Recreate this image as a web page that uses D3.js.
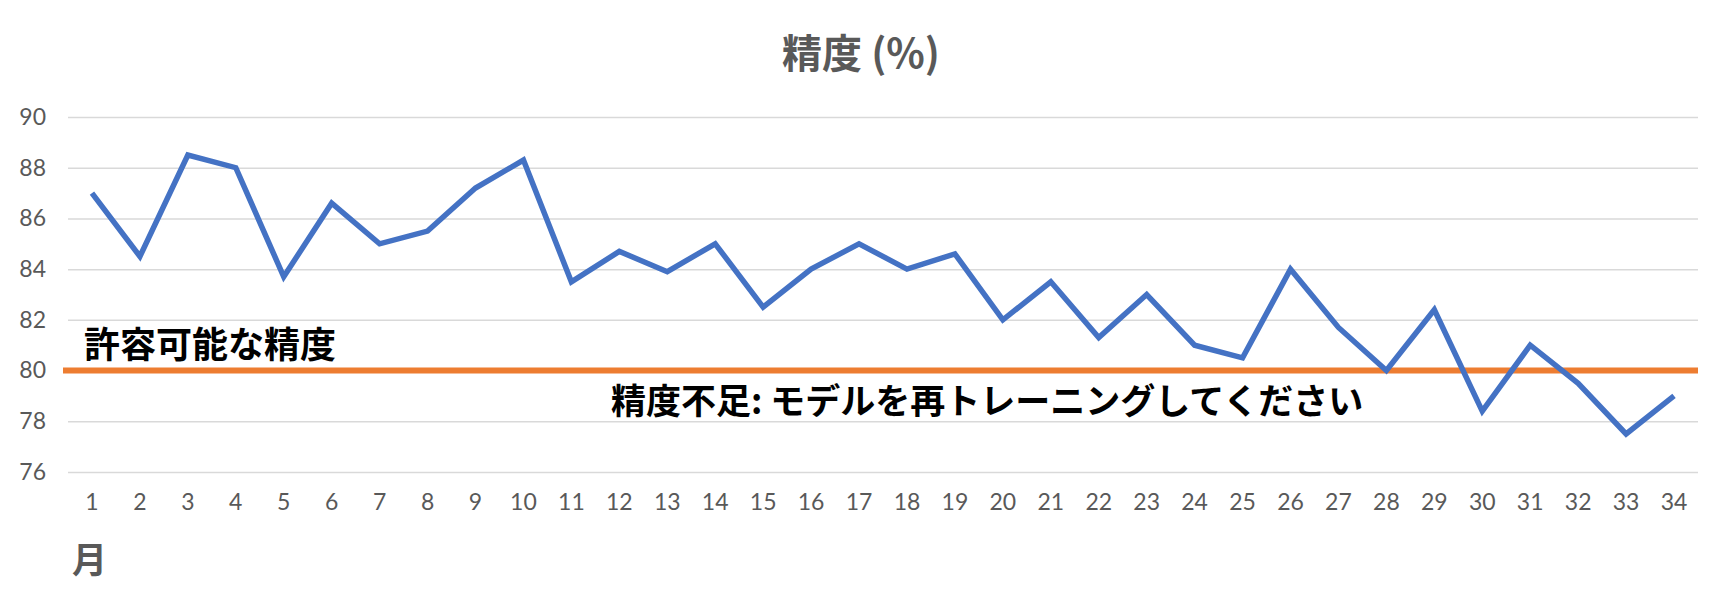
<!DOCTYPE html>
<html>
<head>
<meta charset="utf-8">
<script src="https://cdn.jsdelivr.net/npm/d3@7"></script>
<style>
  html, body { margin: 0; padding: 0; background: #fff; }
  svg { display: block; }
  .tick text { font-family: Lato, "Noto Sans", sans-serif; }
</style>
</head>
<body>
<svg id="chart" width="1718" height="608"></svg>
<script>
const months = d3.range(1, 35).map(String);
const accuracy = [87, 84.5, 88.5, 88, 83.7, 86.6, 85, 85.5, 87.2, 88.3,
                  83.5, 84.7, 83.9, 85, 82.5, 84, 85, 84, 84.6, 82,
                  83.5, 81.3, 83, 81, 80.5, 84, 81.7, 80, 82.4, 78.4,
                  81, 79.5, 77.5, 79];
const threshold = 80;
const yTicks = [76, 78, 80, 82, 84, 86, 88, 90];
const titleText = "精度 (%)";
const xAxisTitle = "月";
const okLabel = "許容可能な精度";
const badLabel = "精度不足: モデルを再トレーニングしてください";

const svg = d3.select("#chart");
const plot = { left: 68, right: 1698, top: 117, bottom: 472 };

const x = d3.scaleBand().domain(months).range([plot.left, plot.right]).padding(0);
const y = d3.scaleLinear().domain([76, 90]).range([plot.bottom, plot.top]);

// gridlines + y labels
const yAxis = d3.axisLeft(y).tickValues(yTicks).tickSize(-(plot.right - plot.left)).tickPadding(22);
const gy = svg.append("g").attr("transform", `translate(${plot.left},0)`).call(yAxis);
gy.select(".domain").remove();
gy.selectAll(".tick line").attr("stroke", "#d9d9d9").attr("stroke-width", 1.5);
gy.selectAll(".tick text").attr("fill", "#595959").attr("font-size", 23);

// x labels
const xAxis = d3.axisBottom(x).tickSize(0).tickPadding(22);
const gx = svg.append("g").attr("transform", `translate(0,${plot.bottom})`).call(xAxis);
gx.select(".domain").remove();
gx.selectAll(".tick text").attr("fill", "#595959").attr("font-size", 23);

// threshold line
svg.append("line")
  .attr("x1", plot.left - 5).attr("x2", plot.right)
  .attr("y1", y(threshold)).attr("y2", y(threshold))
  .attr("stroke", "#ED7D31").attr("stroke-width", 6);

// accuracy line
const line = d3.line()
  .x((d, i) => x(months[i]) + x.bandwidth() / 2)
  .y(d => y(d));
svg.append("path")
  .datum(accuracy)
  .attr("fill", "none")
  .attr("stroke", "#4472C4")
  .attr("stroke-width", 5.5)
  .attr("stroke-linejoin", "miter")
  .attr("d", line);

// title
svg.append("text")
  .attr("x", 861).attr("y", 68)
  .attr("text-anchor", "middle")
  .attr("font-family", "'Noto Sans CJK JP', sans-serif")
  .attr("font-weight", "bold")
  .attr("font-size", 40)
  .attr("fill", "#595959")
  .text(titleText);

// annotations
svg.append("text")
  .attr("x", 84).attr("y", y(threshold) - 13)
  .attr("font-family", "'Noto Sans CJK JP', sans-serif")
  .attr("font-weight", "bold")
  .attr("font-size", 36)
  .attr("fill", "#000")
  .text(okLabel);

svg.append("text")
  .attr("x", 611).attr("y", y(threshold) + 43)
  .attr("font-family", "'Noto Sans CJK JP', sans-serif")
  .attr("font-weight", "bold")
  .attr("font-size", 35)
  .attr("fill", "#000")
  .text(badLabel);

// x axis title
svg.append("text")
  .attr("x", 72).attr("y", 573)
  .attr("font-family", "'Noto Sans CJK JP', sans-serif")
  .attr("font-weight", "bold")
  .attr("font-size", 35)
  .attr("fill", "#595959")
  .text(xAxisTitle);
</script>
</body>
</html>
